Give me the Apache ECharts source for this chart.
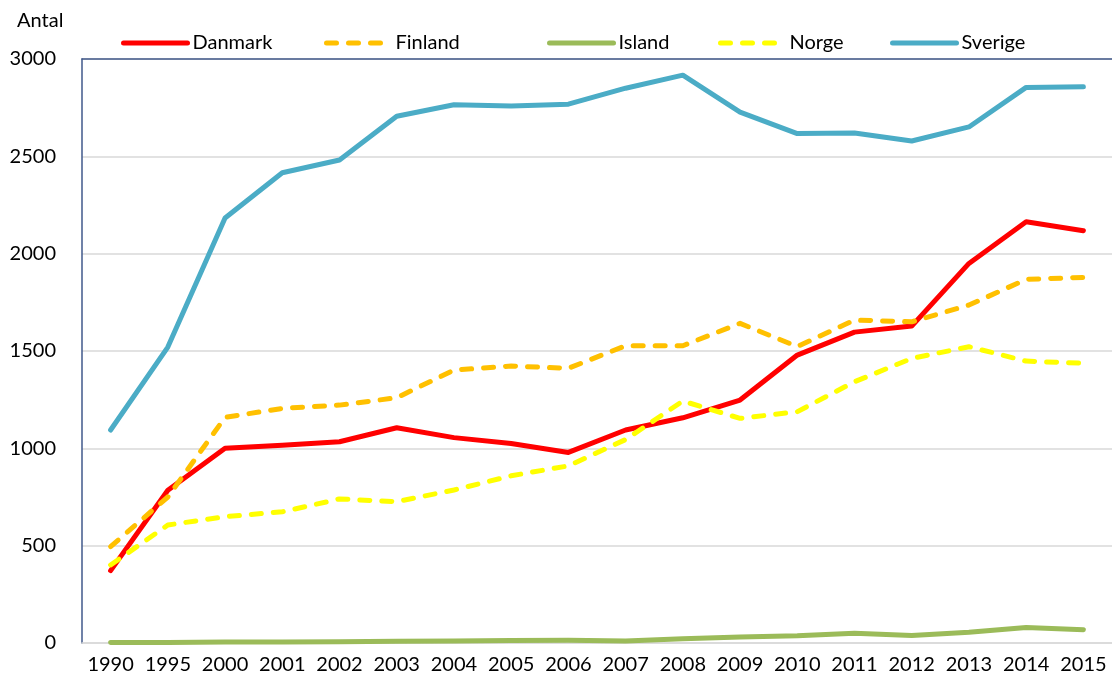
<!DOCTYPE html>
<html>
<head>
<meta charset="utf-8">
<script src="https://cdn.jsdelivr.net/npm/echarts@6/dist/echarts.min.js"></script>
<style>
  html, body {margin: 0; padding: 0; background: #fff;}
  #chart {width: 1112px; height: 684px;}
</style>
</head>
<body>
<div id="chart"></div>
<script>
var years = ['1990', '1995', '2000', '2001', '2002', '2003', '2004', '2005', '2006',
  '2007', '2008', '2009', '2010', '2011', '2012', '2013', '2014', '2015'];
var danmark = [372, 785, 1000, 1016, 1034, 1106, 1055, 1025, 979, 1094, 1157, 1248, 1479, 1597, 1628, 1950, 2164, 2118];
var finland = [495, 750, 1159, 1205, 1222, 1260, 1402, 1423, 1411, 1527, 1527, 1642, 1523, 1659, 1650, 1736, 1868, 1878];
var island = [2, 3, 5, 5, 7, 9, 10, 13, 14, 10, 22, 31, 37, 50, 38, 55, 80, 68];
var norge = [401, 606, 649, 674, 740, 726, 786, 859, 910, 1045, 1243, 1154, 1188, 1342, 1462, 1522, 1448, 1437];
var sverige = [1094, 1520, 2183, 2416, 2481, 2706, 2765, 2758, 2768, 2850, 2917, 2727, 2617, 2620, 2579, 2651, 2854, 2857];

var font = 'Lato, "Open Sans", sans-serif';
var fs = 20;
var myChart = echarts.init(document.getElementById('chart'));

function line(name, data, color, dashed) {
  return {
    name: name,
    type: 'line',
    data: data,
    symbol: 'none',
    lineStyle: {
      color: color,
      width: 5,
      type: dashed ? [10, 12] : 'solid',
      cap: 'round',
      join: 'round'
    },
    itemStyle: {color: color}
  };
}

function legend(name, left) {
  return {
    data: [name],
    left: left,
    top: 33,
    itemWidth: 64,
    itemHeight: 14,
    itemGap: 0,
    padding: 0,
    itemStyle: {opacity: 0},
    lineStyle: {width: 5, cap: 'round'},
    textStyle: {fontFamily: font, fontSize: fs, color: '#000'}
  };
}

myChart.setOption({
  animation: false,
  title: {
    text: 'Antal',
    left: 12,
    top: 6,
    textStyle: {fontFamily: font, fontSize: fs, fontWeight: 'normal', color: '#000'}
  },
  legend: [
    legend('Danmark', 121),
    legend('Finland', 324),
    legend('Island', 547),
    legend('Norge', 718),
    legend('Sverige', 890)
  ],
  grid: {left: 82, right: 0, top: 59, bottom: 41},
  xAxis: [{
    type: 'category',
    data: years,
    boundaryGap: true,
    axisLine: {lineStyle: {color: '#D9D9D9', width: 1.5}},
    axisTick: {show: false},
    axisLabel: {fontFamily: font, fontSize: fs, color: '#000', margin: 12, interval: 0}
  }, {
    type: 'category',
    data: years,
    position: 'top',
    axisLine: {lineStyle: {color: '#41598B', width: 1.5}},
    axisTick: {show: false},
    axisLabel: {show: false}
  }],
  yAxis: {
    type: 'value',
    min: 0,
    max: 3000,
    interval: 500,
    axisLine: {show: true, lineStyle: {color: '#41598B', width: 1.5}},
    axisTick: {show: false},
    splitLine: {lineStyle: {color: '#D9D9D9', width: 1.5}},
    axisLabel: {
      fontFamily: font, fontSize: fs, color: '#000', margin: 26,
      formatter: function (v) { return String(v); }
    }
  },
  series: [
    line('Danmark', danmark, '#FF0000', false),
    line('Finland', finland, '#FFC000', true),
    line('Island', island, '#9BBB59', false),
    line('Norge', norge, '#FFFF00', true),
    line('Sverige', sverige, '#4BACC6', false)
  ]
});
</script>
</body>
</html>
